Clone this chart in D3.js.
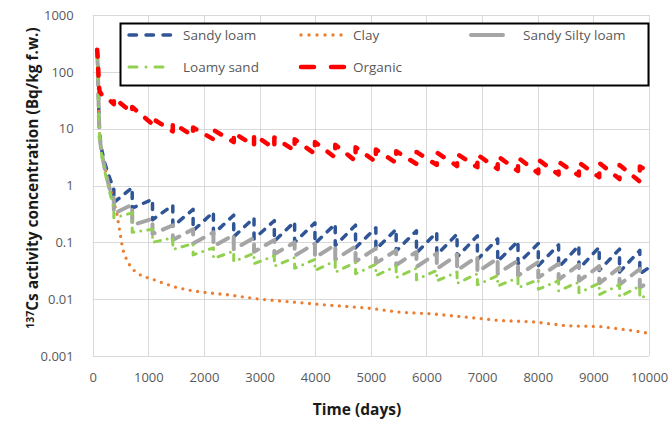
<!DOCTYPE html>
<html><head><meta charset="utf-8">
<script src="https://cdn.jsdelivr.net/npm/d3@7"></script>
<style>
html,body{margin:0;padding:0;background:#fff;}
svg{display:block;}
text{font-family:"Open Sans","Noto Sans",sans-serif;}
</style></head><body>
<svg id="chart" width="670" height="422"></svg>
<script>
// ---------- data ----------
const xTicks = [0,1000,2000,3000,4000,5000,6000,7000,8000,9000,10000];
const yTicks = [0.001,0.01,0.1,1,10,100,1000];
const yTickLabels = ["0.001","0.01","0.1","1","10","100","1000"];
const seriesNames = ["Sandy loam","Clay","Sandy Silty loam","Loamy sand","Organic"];

// initial steep decline (days, values)
const initDays = [80,95,110,125,160,215,300];
const sandyLoamInit = [230,110,20,8,4.3,2.5,1.4];
const siltyLoamInit = [220,100,18,7,3.8,2.0,0.9];
const loamySandInit = [210,95,16,6.5,3.5,1.8,0.8];
const organicInit   = [245,150,60,45,40,36,32];

// yearly cycle boundaries (days)
const cycleDays = [380,710,1075,1440,1805,2170,2535,2900,3265,3630,3995,4360,4725,5090,5455,5820,6185,6550,6915,7280,7645,8010,8375,8740,9105,9470,9835];
const endDay = 10000;

// Sandy loam: peak before yearly drop, value after drop
const sandyLoamPeak = [0.85,0.92,0.57,0.45,0.38,0.34,0.30,0.27,0.24,0.23,0.22,0.21,0.20,0.18,0.17,0.16,0.15,0.14,0.13,0.115,0.105,0.095,0.09,0.088,0.082,0.076,0.072];
const sandyLoamLow  = [0.5,0.40,0.25,0.19,0.16,0.14,0.125,0.115,0.105,0.10,0.095,0.088,0.08,0.075,0.07,0.065,0.06,0.055,0.05,0.046,0.042,0.039,0.036,0.034,0.032,0.030,0.028];
const sandyLoamEnd = 0.036;

const siltyLoamPeak = [0.6,0.46,0.26,0.2,0.17,0.15,0.135,0.12,0.11,0.1,0.095,0.09,0.085,0.078,0.072,0.068,0.064,0.06,0.056,0.052,0.048,0.045,0.042,0.04,0.038,0.036,0.034];
const siltyLoamLow  = [0.32,0.2,0.14,0.11,0.095,0.085,0.075,0.068,0.062,0.058,0.054,0.05,0.046,0.043,0.04,0.037,0.034,0.032,0.03,0.028,0.026,0.024,0.022,0.021,0.019,0.018,0.016];
const siltyLoamEnd = 0.02;

const loamySandPeak = [0.4,0.33,0.17,0.12,0.095,0.08,0.07,0.064,0.058,0.054,0.05,0.047,0.044,0.041,0.038,0.035,0.032,0.03,0.028,0.026,0.024,0.022,0.021,0.02,0.019,0.018,0.017];
const loamySandLow  = [0.27,0.15,0.1,0.075,0.06,0.052,0.046,0.042,0.038,0.035,0.032,0.03,0.028,0.026,0.024,0.022,0.021,0.019,0.018,0.017,0.016,0.015,0.014,0.013,0.012,0.011,0.0105];
const loamySandEnd = 0.012;

// Organic: value before yearly rise, value after rise
const organicLow  = [27,19,12,9,7.5,6.5,5.8,5.0,4.5,4.1,3.6,3.1,2.7,2.6,2.5,2.4,2.3,2.2,2.1,1.95,1.8,1.65,1.56,1.5,1.4,1.3,1.17];
const organicPeak = [35,24,15,12.5,10.5,9.5,8.5,7.8,7,6.5,5.8,5.2,4.7,4.3,4.0,3.9,3.8,3.6,3.5,3.3,3.1,2.85,2.6,2.55,2.5,2.3,2.15];
const organicEnd = 1.8;

// Clay: smooth decline
const clayDays = [80,95,110,125,160,215,300,430,490,540,630,755,900,1060,1150,1510,1800,2050,2410,3000,3600,4200,4750,4930,5520,6115,6730,7320,7910,8520,9120,9710,10000];
const clayVals = [230,100,20,8,4,2.2,1.0,0.34,0.15,0.075,0.044,0.031,0.025,0.023,0.021,0.016,0.014,0.013,0.012,0.010,0.0089,0.0079,0.0072,0.0070,0.0059,0.0055,0.0048,0.0042,0.0040,0.0034,0.0033,0.0028,0.0025];

// ---------- build point lists ----------
function sawRise(initV, peak, low, endV){
  const pts = initDays.map((d,i)=>[d, initV[i]]);
  cycleDays.forEach((d,i)=>{ pts.push([d, peak[i]]); pts.push([d, low[i]]); });
  pts.push([endDay, endV]);
  return pts;
}
function sawJump(initV, low, peak, endV){
  const pts = initDays.map((d,i)=>[d, initV[i]]);
  cycleDays.forEach((d,i)=>{ pts.push([d, low[i]]); pts.push([d, peak[i]]); });
  pts.push([endDay, endV]);
  return pts;
}
const series = [
  {name:seriesNames[0], pts:sawRise(sandyLoamInit,sandyLoamPeak,sandyLoamLow,sandyLoamEnd), color:"#2F5597", w:3.5, dash:"6 8", legDash:"7.5 9.5"},
  {name:seriesNames[1], pts:clayDays.map((d,i)=>[d,clayVals[i]]), color:"#ED7D31", w:3.3, dash:"0 7.5", legDash:"0 8"},
  {name:seriesNames[2], pts:sawRise(siltyLoamInit,siltyLoamPeak,siltyLoamLow,siltyLoamEnd), color:"#A5A5A5", w:4, dash:"12 9", legDash:null},
  {name:seriesNames[3], pts:sawRise(loamySandInit,loamySandPeak,loamySandLow,loamySandEnd), color:"#92D050", w:3, dash:"6 7 0 7", legDash:"8 9 0 9"},
  {name:seriesNames[4], pts:sawJump(organicInit,organicLow,organicPeak,organicEnd), color:"#FF0000", w:4.5, dash:"7 12", legDash:"13 17"}
];

// ---------- chart ----------
const svg = d3.select("#chart");
const L=92.7, R=649, T=15, B=356;
const x = d3.scaleLinear().domain([0,10000]).range([L,R]);
const y = d3.scaleLog().domain([0.001,1000]).range([B,T]);

const grid = svg.append("g");
grid.selectAll("line.h").data(yTicks).join("line")
  .attr("x1",L).attr("x2",R).attr("y1",d=>Math.round(y(d))+0.5).attr("y2",d=>Math.round(y(d))+0.5)
  .attr("stroke","#D9D9D9").attr("stroke-width",1);
grid.selectAll("line.v").data(xTicks).join("line")
  .attr("y1",T).attr("y2",B).attr("x1",d=>Math.round(x(d))+0.5).attr("x2",d=>Math.round(x(d))+0.5)
  .attr("stroke","#D9D9D9").attr("stroke-width",1);

// axes via d3
const xAxis = svg.append("g").attr("transform",`translate(0,${B})`)
  .call(d3.axisBottom(x).tickValues(xTicks).tickSize(0).tickPadding(17).tickFormat(d3.format("d")));
const yAxis = svg.append("g").attr("transform",`translate(${L},0)`)
  .call(d3.axisLeft(y).tickValues(yTicks).tickSize(0).tickPadding(19).tickFormat((d,i)=>yTickLabels[i]));
[xAxis,yAxis].forEach(a=>{
  a.select(".domain").remove();
  a.selectAll("text").attr("fill","#595959").style("font-size","13px").style("font-family",'"Open Sans",sans-serif');
});

// series
const line = d3.line().x(d=>x(d[0])).y(d=>y(d[1]));
const plot = svg.append("g");
series.forEach(s=>{
  plot.append("path").attr("d",line(s.pts)).attr("fill","none")
    .attr("stroke",s.color).attr("stroke-width",s.w)
    .attr("stroke-dasharray",s.dash).attr("stroke-linecap","round").attr("stroke-linejoin","round");
});

// legend
const lg = svg.append("g");
lg.append("rect").attr("x",120.5).attr("y",23.5).attr("width",528).attr("height",62)
  .attr("fill","#fff").attr("stroke","#000").attr("stroke-width",2);
const legPos = [
  {x1:129,x2:172,tx:183,ty:35},
  {x1:301,x2:345,tx:353,ty:35},
  {x1:471,x2:503,tx:523,ty:35},
  {x1:129,x2:172,tx:183,ty:67},
  {x1:301,x2:345,tx:353,ty:67}
];
series.forEach((s,i)=>{
  const p = legPos[i];
  lg.append("line").attr("x1",p.x1).attr("x2",p.x2).attr("y1",p.ty).attr("y2",p.ty)
    .attr("stroke",s.color).attr("stroke-width",s.w)
    .attr("stroke-dasharray", s.legDash).attr("stroke-linecap","round");
  lg.append("text").attr("x",p.tx).attr("y",p.ty).attr("dy","0.35em")
    .attr("fill","#595959").style("font-size","13.5px").text(s.name);
});

// axis titles
svg.append("text").attr("x",357).attr("y",415).attr("text-anchor","middle")
  .attr("fill","#1a1a1a").style("font-size","15.5px").style("font-weight","bold").text("Time (days)");

const yl = svg.append("text").attr("transform","translate(38,178) rotate(-90)")
  .attr("text-anchor","middle").attr("fill","#1a1a1a").style("font-size","13px").style("font-weight","bold");
yl.append("tspan").style("font-size","9px").attr("dy","-4").text("137");
yl.append("tspan").attr("dy","4").text("Cs activity concentration (Bq/kg f.w.)");
const len = yl.node().getComputedTextLength();
if (len > 0) {
  const fs = 13 * 302 / len;
  yl.style("font-size", fs + "px");
  yl.select("tspan").style("font-size", (fs*0.68)+"px");
}
</script>
</body></html>
